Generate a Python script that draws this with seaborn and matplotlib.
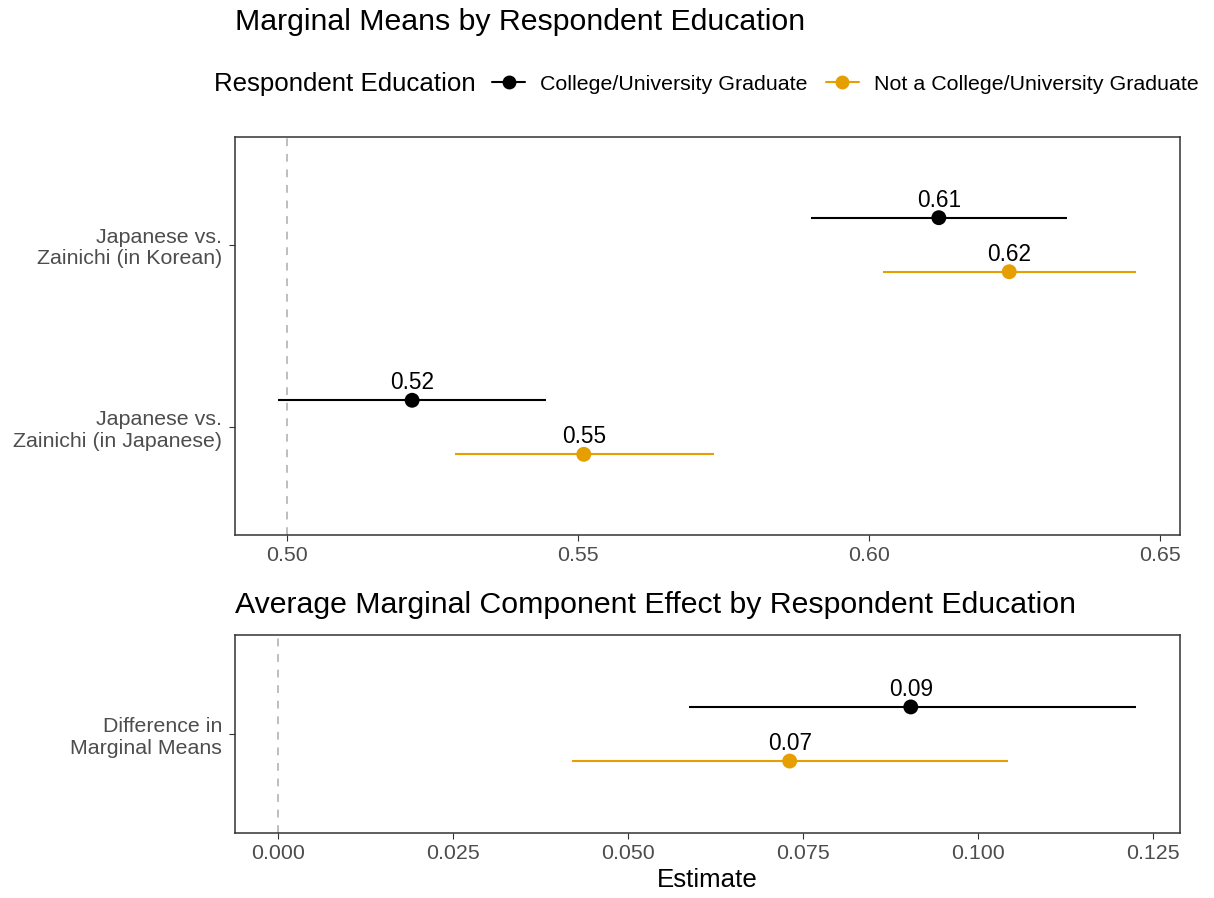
import numpy as np
import pandas as pd
import matplotlib
matplotlib.use("Agg")
import matplotlib.pyplot as plt
from matplotlib.lines import Line2D
import seaborn as sns

# ---- data ----
groups = ["College/University Graduate", "Not a College/University Graduate"]
palette = {"College/University Graduate": "#000000",
           "Not a College/University Graduate": "#E69F00"}

mm_categories = ["Japanese vs.\nZainichi (in Korean)", "Japanese vs.\nZainichi (in Japanese)"]
mm_est_college = [0.6120, 0.5215]
mm_low_college = [0.5900, 0.4985]
mm_high_college = [0.6340, 0.5445]
mm_est_not = [0.6241, 0.5510]
mm_low_not = [0.6024, 0.5289]
mm_high_not = [0.6459, 0.5734]

amce_categories = ["Difference in\nMarginal Means"]
amce_est_college = [0.0904]
amce_low_college = [0.0587]
amce_high_college = [0.1226]
amce_est_not = [0.0731]
amce_low_not = [0.0420]
amce_high_not = [0.1043]

mm_ticks = [0.50, 0.55, 0.60, 0.65]
amce_ticks = [0.000, 0.025, 0.050, 0.075, 0.100, 0.125]


def build_frame(categories, est_c, low_c, high_c, est_n, low_n, high_n):
    rows = []
    for i, cat in enumerate(categories):
        rows.append((cat, i, groups[0], est_c[i], low_c[i], high_c[i]))
        rows.append((cat, i, groups[1], est_n[i], low_n[i], high_n[i]))
    return pd.DataFrame(rows, columns=["term", "idx", "group", "estimate", "lower", "upper"])


mm = build_frame(mm_categories, mm_est_college, mm_low_college, mm_high_college,
                 mm_est_not, mm_low_not, mm_high_not)
amce = build_frame(amce_categories, amce_est_college, amce_low_college, amce_high_college,
                   amce_est_not, amce_low_not, amce_high_not)

sns.set_style("white")
plt.rcParams["font.family"] = ["Liberation Sans", "DejaVu Sans"]
plt.rcParams["text.color"] = "black"
plt.rcParams["axes.labelcolor"] = "black"

fig = plt.figure(figsize=(12.14, 8.98), dpi=100)
ax1 = fig.add_axes([235 / 1214, 1 - 535 / 898, 945 / 1214, 398 / 898])
ax2 = fig.add_axes([235 / 1214, 1 - 833 / 898, 945 / 1214, 198 / 898])

TICK = 15.4
GREY_TXT = "#4D4D4D"
FRAME = "#333333"


def draw_panel(ax, df, categories, ref, dodge, ticks, fmt, xlim, ylim):
    df = df.copy()
    df["y"] = df["idx"] + np.where(df["group"] == groups[0], -dodge, dodge)
    ax.axvline(ref, color="#BEBEBE", lw=1.4, ls=(0, (4, 4)), zorder=1)
    for g in groups:
        d = df[df["group"] == g]
        ax.hlines(d["y"], d["lower"], d["upper"], color=palette[g], lw=1.5, zorder=2)
    sns.scatterplot(data=df, x="estimate", y="y", hue="group", palette=palette,
                    s=115, linewidth=0, legend=False, ax=ax, zorder=3)
    for _, r in df.iterrows():
        ax.annotate(f"{r['estimate']:.2f}", (r["estimate"], r["y"]), xytext=(0, 8),
                    textcoords="offset points", ha="center", va="baseline",
                    fontsize=16.3, color="black")
    ax.set_yticks(range(len(categories)))
    ax.set_yticklabels(categories, linespacing=1.18)
    ax.set_xticks(ticks)
    ax.set_xticklabels([fmt.format(t) for t in ticks])
    ax.set_xlim(*xlim)
    ax.set_ylim(*ylim)
    ax.set_xlabel("")
    ax.set_ylabel("")
    ax.tick_params(axis="both", length=4.3, width=0.8, color=FRAME,
                   labelsize=TICK, labelcolor=GREY_TXT, pad=3.5, left=True, bottom=True)
    ax.tick_params(axis="y", pad=5)
    for sp in ax.spines.values():
        sp.set_color(FRAME)
        sp.set_linewidth(1.1)


draw_panel(ax1, mm, mm_categories, 0.5, 0.148, mm_ticks, "{:.2f}",
           (0.49107, 0.65344), (1.59, -0.59))
draw_panel(ax2, amce, amce_categories, 0.0, 0.164, amce_ticks, "{:.3f}",
           (-0.00614, 0.12886), (0.6, -0.6))

ax2.set_xlabel("Estimate", fontsize=18.6, color="black", labelpad=4)

fig.text(235 / 1214, 1 - 22 / 898, "Marginal Means by Respondent Education",
         fontsize=21.8, ha="left", va="center", color="black")
fig.text(235 / 1214, 1 - 605 / 898, "Average Marginal Component Effect by Respondent Education",
         fontsize=21.8, ha="left", va="center", color="black")

fig.text(214 / 1214, 1 - 84 / 898, "Respondent Education", fontsize=18.6,
         ha="left", va="center", color="black")
handles = [Line2D([0], [0], color=palette[g], lw=1.5, marker="o", markersize=10,
                  markeredgewidth=0) for g in groups]
leg = fig.legend(handles, groups, loc="center left", bbox_to_anchor=(492 / 1214, 1 - 84 / 898),
                 ncol=2, frameon=False, fontsize=TICK, handlelength=1.55, handletextpad=0.7,
                 columnspacing=0.85, borderpad=0, borderaxespad=0)
for t in leg.get_texts():
    t.set_color("black")

fig.savefig("out.png", dpi=100)
